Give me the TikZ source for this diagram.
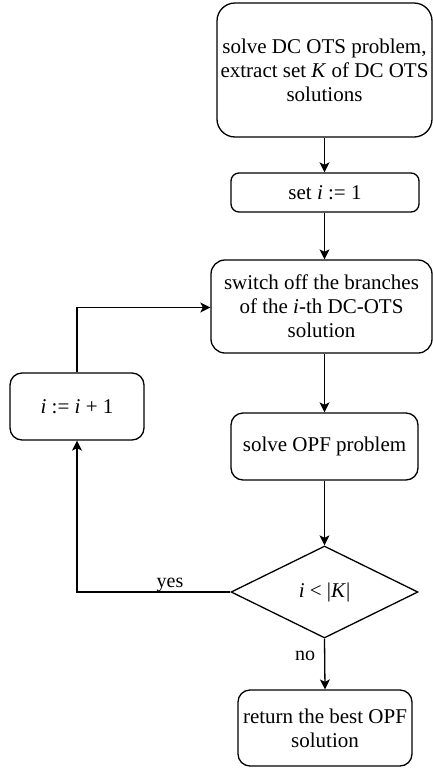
\documentclass[tikz,border=0pt]{standalone}
\usepackage{fontspec}
\setmainfont{Liberation Serif}
\usetikzlibrary{shapes.geometric,arrows.meta}
\begin{document}
\begin{tikzpicture}[x=1pt,y=-1pt,
  every node/.style={font=\fontsize{21}{24}\selectfont},
  box/.style={draw, line width=1.3pt, rectangle, rounded corners=#1, align=center, inner sep=2pt},
  box/.default=12pt,
  dec/.style={draw, line width=1.3pt, diamond, inner sep=0pt, aspect=2.03},
  flow/.style={line width=1.3pt, -{Stealth[length=10pt,width=10pt,inset=2.5pt]}},
  lbl/.style={font=\fontsize{20}{24}\selectfont, inner sep=0pt}
]
\useasboundingbox (0,0) rectangle (433,769);
\node[box=18pt, minimum width=215pt, minimum height=134pt] (solve) at (324.5,70)
  {solve DC OTS problem,\\extract set \textit{K} of DC OTS\\solutions};
\node[box=8pt, minimum width=188pt, minimum height=39pt] (set) at (325,192.5)
  {set \textit{i} := 1};
\node[box=14pt, minimum width=221pt, minimum height=93pt] (switch) at (321.5,306.5)
  {switch off the branches\\of the \textit{i}-th DC-OTS\\solution};
\node[box=12pt, minimum width=134pt, minimum height=67pt] (inc) at (77,406.5)
  {\textit{i} := \textit{i} + 1};
\node[box=12pt, minimum width=187pt, minimum height=67pt] (opf) at (324.5,446.5)
  {solve OPF problem};
\node[dec, minimum width=187pt, minimum height=92pt] (cond) at (324.5,592)
  {\textit{i} < |\textit{K}|};
\node[box=12pt, minimum width=174pt, minimum height=76pt] (ret) at (325,728)
  {return the best OPF\\solution};
\coordinate (yescorner) at (77,592);
\coordinate (loopcorner) at (77,307.5);

\draw[flow] (solve.south -| 324.5,0) -- (set.north -| 324.5,0);
\draw[flow] (set.south -| 324.5,0) -- (switch.north -| 324.5,0);
\draw[flow] (switch.south -| 324.5,0) -- (opf.north -| 324.5,0);
\draw[flow] (opf.south) -- (cond.north);
\draw[flow] (cond.west) -- (yescorner) -- (inc.south);
\draw[flow] (inc.north) -- (loopcorner) -- (loopcorner -| switch.west);
\draw[flow] (cond.south) -- (ret.north);
\node[lbl, anchor=base] (yes) at (170,587) {yes};
\node[lbl, anchor=base] (no) at (305,660) {no};
\end{tikzpicture}
\end{document}
